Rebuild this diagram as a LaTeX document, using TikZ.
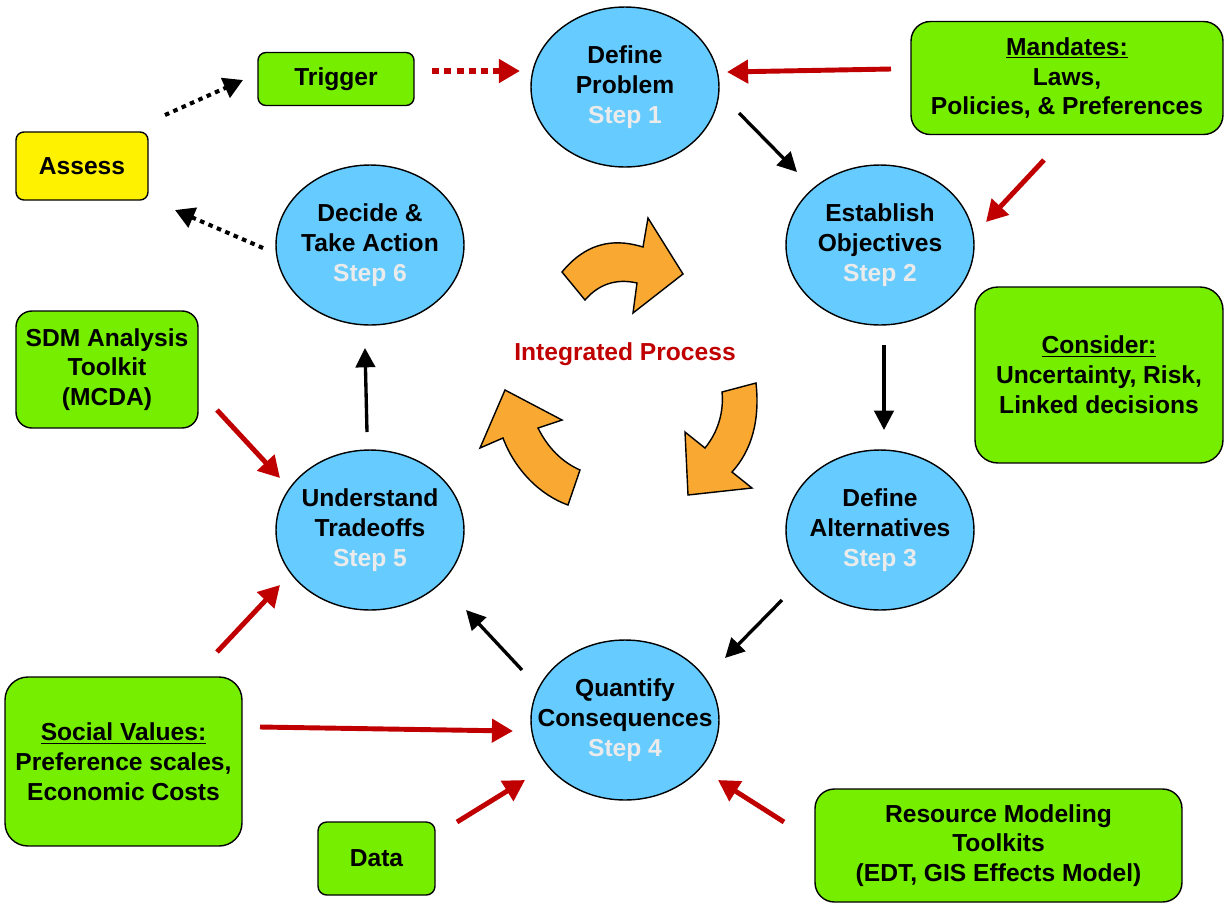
\documentclass[tikz,border=0pt]{standalone}
\usepackage{fontspec}
\setmainfont{Liberation Sans}
\usetikzlibrary{shapes.geometric,arrows.meta,calc}
\definecolor{stepblue}{HTML}{66CCFF}
\definecolor{boxgreen}{HTML}{76EE00}
\definecolor{arrred}{HTML}{C00000}
\definecolor{orangearr}{HTML}{F9A832}
\definecolor{steplbl}{HTML}{EBEBEB}
\begin{document}
\begin{tikzpicture}[x=0.02cm,y=-0.02cm,
 every node/.style={font=\fontsize{14}{17}\selectfont\bfseries, align=center},
 stepnode/.style={ellipse, draw=black, line width=0.8pt, fill=stepblue, minimum width=3.76cm, minimum height=3.2cm, inner sep=-0.9cm},
 gbox/.style={draw=black, line width=0.8pt, fill=boxgreen, rounded corners=#1, inner sep=0pt},
 gbox/.default=5pt,
 redarr/.style={draw=arrred, line width=2.8pt, -{Triangle[length=12pt,width=13pt]}},
 reddot/.style={draw=arrred, line width=3.8pt, dash pattern=on 4pt off 3pt, -{Triangle[length=12pt,width=13pt]}},
 blkarr/.style={draw=black, line width=1.9pt, -{Triangle[length=11pt,width=11pt]}},
 blkdot/.style={draw=black, line width=2.3pt, dash pattern=on 2.6pt off 2.6pt, -{Triangle[length=11pt,width=12pt]}},
 orangeshape/.style={fill=orangearr, draw=black, line width=0.8pt, line join=miter}
]
\useasboundingbox (0,0) rectangle (1225,904);

% steps
\node[stepnode] (s1) at (625,87) {Define\\Problem\\{\color{steplbl}Step 1}};
\node[stepnode] (s2) at (880,245) {Establish\\Objectives\\{\color{steplbl}Step 2}};
\node[stepnode] (s3) at (880,530) {Define\\Alternatives\\{\color{steplbl}Step 3}};
\node[stepnode] (s4) at (625,720) {Quantify\\Consequences\\{\color{steplbl}Step 4}};
\node[stepnode] (s5) at (370,530) {Understand\\Tradeoffs\\{\color{steplbl}Step 5}};
\node[stepnode] (s6) at (370,245) {Decide \&\\Take Action\\{\color{steplbl}Step 6}};

% boxes
\node[gbox=4.5pt, minimum width=3.12cm, minimum height=1.06cm] (trigger) at (336,79) {Trigger};
\node[draw=black, line width=0.8pt, fill=yellow, rounded corners=4.5pt, minimum width=2.64cm, minimum height=1.36cm, inner sep=0pt] (assess) at (82,166) {Assess};
\node[gbox=11pt, minimum width=6.24cm, minimum height=2.26cm] (mand) at (1067,78) {\underline{Mandates:}\\Laws,\\Policies, \& Preferences};
\node[gbox=13pt, minimum width=4.96cm, minimum height=3.52cm] (consider) at (1099,375) {\underline{Consider:}\\Uncertainty, Risk,\\Linked decisions};
\node[gbox=9pt, minimum width=3.64cm, minimum height=2.34cm] (sdm) at (107,369.5) {SDM Analysis\\Toolkit\\(MCDA)};
\node[gbox=13pt, minimum width=4.74cm, minimum height=3.38cm] (social) at (123.5,761.5) {\underline{Social Values:}\\Preference scales,\\Economic Costs};
\node[gbox=5pt, minimum width=2.34cm, minimum height=1.46cm] (data) at (376.5,858.5) {Data};
\node[gbox=11pt, minimum width=7.34cm, minimum height=2.26cm] (res) at (998.5,845.5) {Resource Modeling\\Toolkits\\(EDT, GIS Effects Model)};

% center
\node[text=arrred] (ip) at (625,354) {Integrated Process};
\draw[orangeshape] (562,272) .. controls (590,238) and (620,240) .. (643,247)
  -- (648,218) -- (683,274) -- (633,313) -- (637,283)
  .. controls (615,278) and (598,285) .. (585,300) -- cycle;
\draw[orangeshape] (722,392) -- (756,383) .. controls (760,420) and (752,450) .. (732,472)
  -- (752,488) -- (688,495) -- (685,432) -- (705,448)
  .. controls (718,432) and (724,412) .. (722,392) -- cycle;
\draw[orangeshape] (580,470) .. controls (562,462) and (548,448) .. (538,428)
  -- (562,420) -- (505,390) -- (480,448) -- (503,438)
  .. controls (515,470) and (540,495) .. (568,505) -- cycle;

% connectors
\draw[reddot] ($(trigger)+(96,-8)$) -- ($(s1)+(-105,-16)$);
\draw[redarr] ($(mand)+(-176,-9)$) -- ($(s1)+(102,-15)$);
\draw[blkarr] ($(s1)+(114,26)$) -- ($(s2)+(-83,-73)$);
\draw[redarr] ($(mand)+(-23,82)$) -- ($(s2)+(106,-23)$);
\draw[blkarr] ($(s2)+(4,100)$) -- ($(s3)+(4,-100)$);
\draw[blkarr] ($(s3)+(-98,70)$) -- ($(s4)+(100,-62)$);
\draw[blkarr] ($(s4)+(-103,-50)$) -- ($(s5)+(96,80)$);
\draw[blkarr] ($(s5)+(-3,-98)$) -- ($(s6)+(-5,103)$);
\draw[blkdot] ($(s6)+(-107,3)$) -- ($(assess)+(93,44)$);
\draw[blkdot] ($(assess)+(83,-51)$) -- ($(trigger)+(-93,1)$);
\draw[redarr] ($(sdm)+(110,40.5)$) -- ($(s5)+(-90,-52)$);
\draw[redarr] ($(social)+(93.5,-109.5)$) -- ($(s5)+(-90,55)$);
\draw[redarr] ($(social)+(136.5,-34.5)$) -- ($(s4)+(-112,11)$);
\draw[redarr] ($(data)+(80.5,-36.5)$) -- ($(s4)+(-100,60)$);
\draw[redarr] ($(res)+(-214.5,-23.5)$) -- ($(s4)+(93,60)$);
\end{tikzpicture}
\end{document}
